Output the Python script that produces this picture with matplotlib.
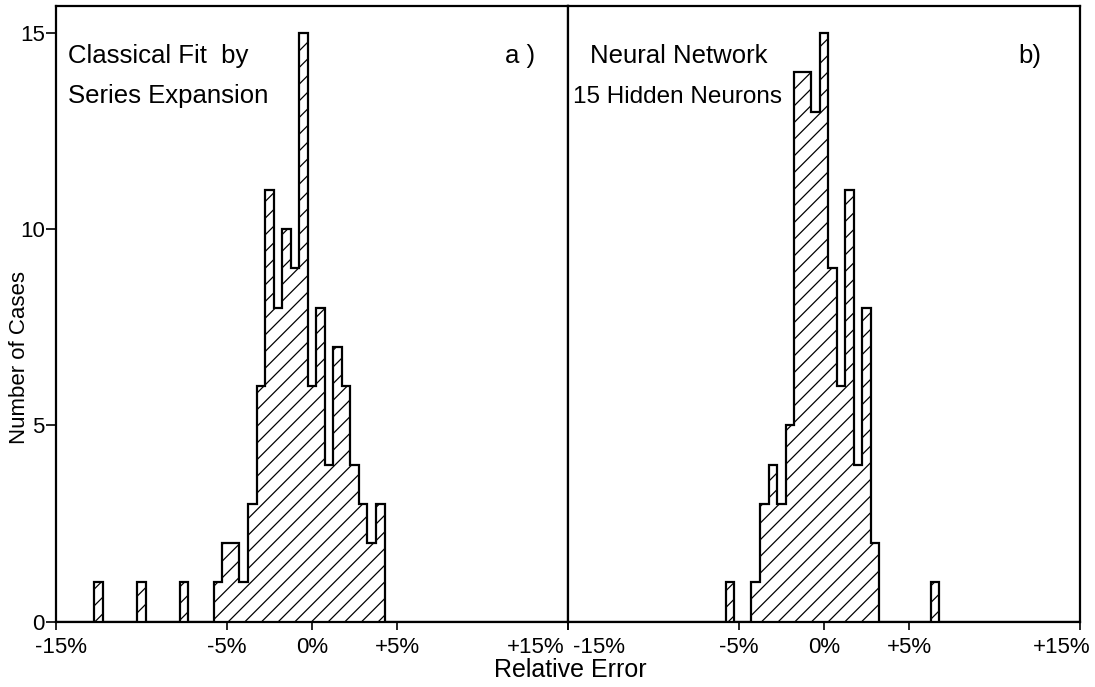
import numpy as np
import matplotlib
matplotlib.use("Agg")
import matplotlib.pyplot as plt
from matplotlib.transforms import ScaledTranslation

# ---- data (bin width 0.5 %, bins centred on multiples of 0.5 %) ----
bin_width = 0.5
a_centers = [-12.5, -10.0, -7.5,
             -5.5, -5.0, -4.5, -4.0, -3.5, -3.0, -2.5, -2.0, -1.5, -1.0, -0.5,
             0.0, 0.5, 1.0, 1.5, 2.0, 2.5, 3.0, 3.5, 4.0]
a_counts = [1, 1, 1,
            1, 2, 2, 1, 3, 6, 11, 8, 10, 9, 15,
            6, 8, 4, 7, 6, 4, 3, 2, 3]
b_centers = [-5.5,
             -4.0, -3.5, -3.0, -2.5, -2.0, -1.5, -1.0, -0.5,
             0.0, 0.5, 1.0, 1.5, 2.0, 2.5, 3.0,
             6.5]
b_counts = [1,
            1, 3, 4, 3, 5, 14, 14, 13,
            15, 9, 6, 11, 4, 8, 2,
            1]

xticks = [-15, -5, 0, 5, 15]
xticklabels = ["-15%", "-5%", "0%", "+5%", "+15%"]
yticks = [0, 5, 10, 15]
yticklabels = ["0", "5", "10", "15"]

a_lines = ["Classical Fit  by", "Series Expansion"]
b_lines = ["Neural Network", "15 Hidden Neurons"]

plt.rcParams["font.family"] = ["Liberation Sans", "DejaVu Sans"]
plt.rcParams["hatch.linewidth"] = 0.9

W, H = 1095, 687
fig = plt.figure(figsize=(W / 100, H / 100), dpi=100)

x0, x_mid, x1 = 56, 568, 1080
y_top, y_bot = 6, 621.5
axA = fig.add_axes([x0 / W, (H - y_bot) / H, (x_mid - x0) / W, (y_bot - y_top) / H])
axB = fig.add_axes([x_mid / W, (H - y_bot) / H, (x1 - x_mid) / W, (y_bot - y_top) / H])

edges = np.arange(-15.25, 15.25 + 1e-9, bin_width)


def draw(ax, centers, counts):
    vals = np.zeros(len(edges) - 1)
    for c, n in zip(centers, counts):
        idx = int(round((c - edges[0]) / bin_width - 0.5))
        vals[idx] = n
    ax.stairs(vals, edges, fill=True, baseline=0, facecolor="white",
              edgecolor="black", hatch="//", linewidth=1.6)
    ax.set_xlim(-15, 15)
    ax.set_ylim(0, 15.69)
    ax.set_xticks(xticks)
    ax.set_xticklabels(xticklabels, fontsize=16)
    ax.tick_params(axis="x", direction="out", length=6, width=1.2, pad=5)
    for s in ax.spines.values():
        s.set_linewidth(1.6)


draw(axA, a_centers, a_counts)
draw(axB, b_centers, b_counts)

# shift the outer labels as in the reference
labA = axA.get_xticklabels()
labB = axB.get_xticklabels()
labA[0].set_transform(labA[0].get_transform() + ScaledTranslation(0.05, 0, fig.dpi_scale_trans))
labA[-1].set_horizontalalignment("right")
labA[-1].set_transform(labA[-1].get_transform() + ScaledTranslation(-0.03, 0, fig.dpi_scale_trans))
labB[0].set_horizontalalignment("left")
labB[0].set_transform(labB[0].get_transform() + ScaledTranslation(0.05, 0, fig.dpi_scale_trans))
labB[-1].set_horizontalalignment("right")
labB[-1].set_transform(labB[-1].get_transform() + ScaledTranslation(0.1, 0, fig.dpi_scale_trans))

axA.set_yticks(yticks)
axA.set_yticklabels(yticklabels, fontsize=16)
axA.tick_params(axis="y", direction="out", length=7, width=1.2, pad=1)
axB.set_yticks([])


def ax_xy(ax, xl, xr, px, py):
    return (px - xl) / (xr - xl), (y_bot - py) / (y_bot - y_top)


tkw = dict(fontsize=18.5, ha="left", va="baseline")
axA.text(*ax_xy(axA, x0, x_mid, 68, 63), a_lines[0], transform=axA.transAxes, **tkw)
axA.text(*ax_xy(axA, x0, x_mid, 68, 103), a_lines[1], transform=axA.transAxes, **tkw)
axA.text(*ax_xy(axA, x0, x_mid, 505, 63), "a )", transform=axA.transAxes, **tkw)
axB.text(*ax_xy(axB, x_mid, x1, 590, 63), b_lines[0], transform=axB.transAxes, **tkw)
axB.text(*ax_xy(axB, x_mid, x1, 573, 103), b_lines[1], transform=axB.transAxes,
         fontsize=17.5, ha="left", va="baseline")
axB.text(*ax_xy(axB, x_mid, x1, 1018, 63), "b)", transform=axB.transAxes, **tkw)

fig.text(570 / W, 1 - 670 / H, "Relative Error", fontsize=18, ha="center", va="center")
fig.text(20 / W, 1 - 358 / H, "Number of Cases", fontsize=16, ha="center", va="center",
         rotation=90)

fig.savefig("out.png", dpi=100)
